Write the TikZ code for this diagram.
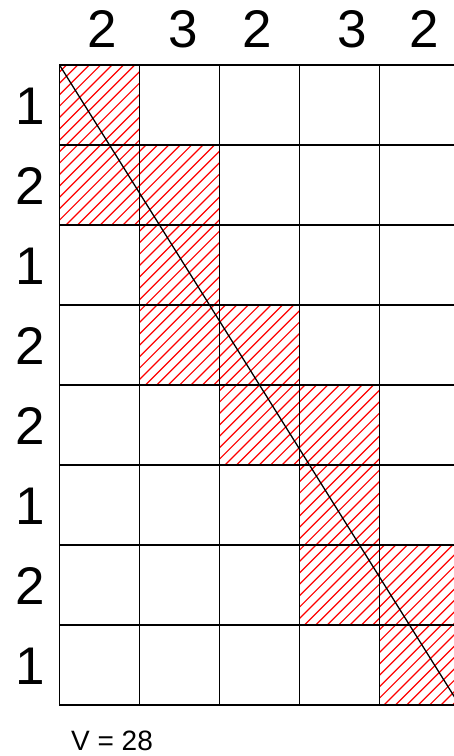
\documentclass[tikz,border=0pt]{standalone}
\usepackage{fontspec}
\setmainfont{Liberation Sans}
\tikzset{
  cell/.style={draw=black, line width=1.6pt, minimum size=80pt, inner sep=0pt, outer sep=0pt, anchor=north west},
  hatchline/.style={draw=red, line width=1.2pt},
  biglab/.style={font=\fontsize{53}{60}\selectfont, inner sep=0pt},
  smalllab/.style={font=\fontsize{28}{32}\selectfont, inner sep=0pt}
}
\begin{document}
\begin{tikzpicture}[x=1pt, y=-1pt]
\useasboundingbox (0,0) rectangle (454,756);
\clip (0,0) rectangle (454,756);
% hatching of the shaded cells
\begin{scope}
  \clip (59.5,65) rectangle ++(80,80)
        (59.5,145) rectangle ++(160,80)
        (139.5,225) rectangle ++(80,80)
        (139.5,305) rectangle ++(160,80)
        (219.5,385) rectangle ++(160,80)
        (299.5,465) rectangle ++(80,80)
        (299.5,545) rectangle ++(160,80)
        (379.5,625) rectangle ++(80,80);
  \foreach \i in {0,...,95}{
    \pgfmathsetmacro\k{120+11.4*\i}
    \draw[hatchline] ({\k-60},60) -- ({\k-720},720);
  }
\end{scope}
% cells
\foreach \r in {0,...,7}{
  \foreach \c in {0,...,4}{
    \node[cell] (c-\r-\c) at ({59.5+80*\c},{65+80*\r}) {};
  }
}
% diagonal
\draw[line width=1.3pt] (c-0-0.north west) -- (c-7-4.south east);
% top labels
\node[biglab] (t0) at (102,29) {2};
\node[biglab] (t1) at (183,29) {3};
\node[biglab] (t2) at (257,29) {2};
\node[biglab] (t3) at (352,29) {3};
\node[biglab] (t4) at (424,29) {2};
% left labels
\foreach \v [count=\i from 0] in {1,2,1,2,2,1,2,1}{
  \node[biglab] (l-\i) at (30,{106+80*\i}) {\v};
}
\node[smalllab] (v) at (112,741) {V = 28};
\end{tikzpicture}
\end{document}
